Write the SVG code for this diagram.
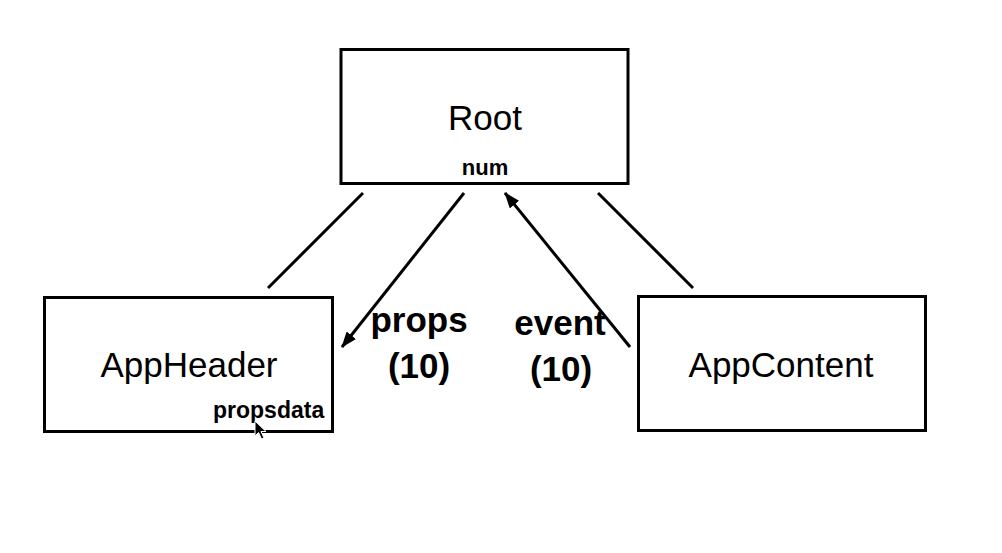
<svg xmlns="http://www.w3.org/2000/svg" width="1002" height="553" viewBox="0 0 1002 553">
<defs>
<style>
.box{fill:#fff;stroke:#000;stroke-width:3}
.t{font-family:"Liberation Sans",Arial,sans-serif;fill:#000}
.n{font-size:35px;text-anchor:middle}
.s{font-size:22px;font-weight:bold}
.lbl{font-size:35px;font-weight:bold;text-anchor:middle}
.ln{stroke:#000;stroke-width:3;fill:none}
</style>
<marker id="ah" viewBox="0 0 16 12" refX="15" refY="6" markerWidth="16" markerHeight="12" markerUnits="userSpaceOnUse" orient="auto">
<path d="M0,0 L16,6 L0,12 Z" fill="#000"/>
</marker>
</defs>
<rect width="1002" height="553" fill="#fff"/>
<g id="root">
<rect class="box" x="341" y="49.500" width="287" height="134"/>
<text class="t n" x="485" y="130">Root</text>
<text class="t s" x="485" y="175" text-anchor="middle">num</text>
</g>
<g id="appheader">
<rect class="box" x="44.500" y="297.500" width="288" height="134"/>
<text class="t n" x="189" y="377">AppHeader</text>
<text class="t s" x="213" y="418" style="font-size:23px">propsdata</text>
</g>
<g id="appcontent">
<rect class="box" x="638.500" y="296.500" width="287" height="134"/>
<text class="t n" x="781" y="377">AppContent</text>
</g>
<g id="connectors">
<line class="ln" x1="363" y1="193" x2="268" y2="288"/>
<line class="ln" x1="464" y1="193" x2="342" y2="347" marker-end="url(#ah)"/>
<line class="ln" x1="630" y1="347" x2="505" y2="193" marker-end="url(#ah)"/>
<line class="ln" x1="598" y1="193" x2="693" y2="288"/>
</g>
<g id="labels">
<text class="t lbl" x="419" y="332">props</text>
<text class="t lbl" x="419" y="378">(10)</text>
<text class="t lbl" x="560" y="335">event</text>
<text class="t lbl" x="561" y="381">(10)</text>
</g>
<path id="cursor" d="M255,421 L255,436 L258.500,432.500 L261.500,439 L264,438 L261,431.500 L266,431.500 Z" fill="#000" stroke="#fff" stroke-width="1"/>
</svg>
